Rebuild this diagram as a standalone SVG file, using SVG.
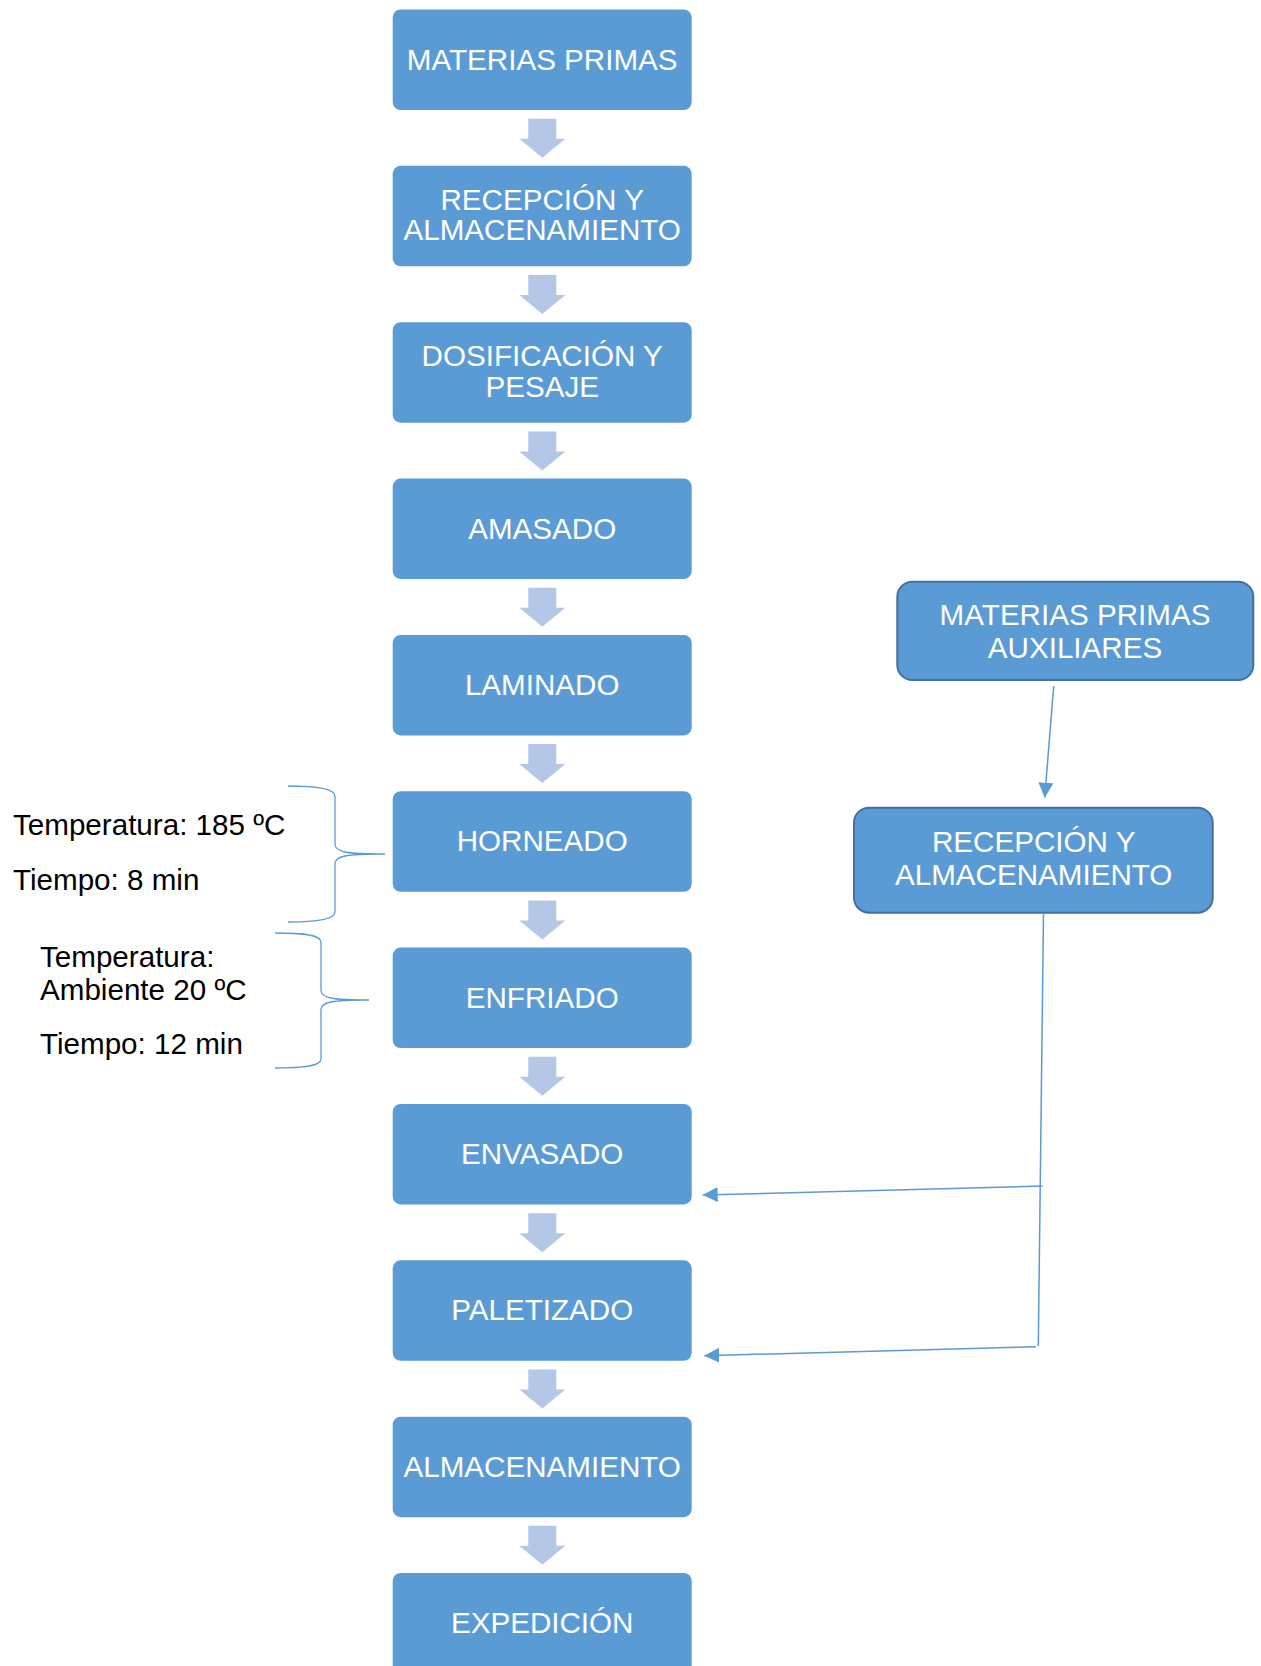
<svg xmlns="http://www.w3.org/2000/svg" xmlns:xlink="http://www.w3.org/1999/xlink" width="1261" height="1666" viewBox="0 0 1261 1666">
<style>
.box{fill:#5B9BD5;}
.rbox{fill:#5B9BD5;stroke:#41719C;stroke-width:2;}
.lbl{font-family:"Liberation Sans",Arial,sans-serif;font-size:29.6px;fill:#FFFFFF;text-anchor:middle;}
.note{font-family:"Liberation Sans",Arial,sans-serif;font-size:29.6px;fill:#000000;}
.blk{fill:#B4C7E7;}
.con{fill:none;stroke:#5B9BD5;stroke-width:1.5;}
.brace{fill:none;stroke:#5B9BD5;stroke-width:1.3;}
</style>
<defs>
<polygon id="down" class="blk" points="528.3,0 556.3,0 556.3,20 565.3,20 542.3,39 519.3,20 528.3,20"/>
<marker id="ah" markerUnits="userSpaceOnUse" markerWidth="16" markerHeight="16" refX="15" refY="7.5" orient="auto">
<path d="M0,0 L15,7.5 L0,15 z" fill="#5B9BD5"/>
</marker>
</defs>
<rect width="1261" height="1666" fill="#FFFFFF"/>

<g id="n0"><rect class="box" x="392.7" y="9.5" width="299" height="100.5" rx="8"/><text class="lbl" x="542.2" y="69.5">MATERIAS PRIMAS</text></g>
<g id="n1"><rect class="box" x="392.7" y="165.85" width="299" height="100.5" rx="8"/><text class="lbl" x="542.2" y="209.5">RECEPCIÓN Y</text><text class="lbl" x="542.2" y="240.3">ALMACENAMIENTO</text></g>
<g id="n2"><rect class="box" x="392.7" y="322.2" width="299" height="100.5" rx="8"/><text class="lbl" x="542.2" y="366">DOSIFICACIÓN Y</text><text class="lbl" x="542.2" y="396.8">PESAJE</text></g>
<g id="n3"><rect class="box" x="392.7" y="478.55" width="299" height="100.5" rx="8"/><text class="lbl" x="542.2" y="538.5">AMASADO</text></g>
<g id="n4"><rect class="box" x="392.7" y="634.9" width="299" height="100.5" rx="8"/><text class="lbl" x="542.2" y="694.8">LAMINADO</text></g>
<g id="n5"><rect class="box" x="392.7" y="791.25" width="299" height="100.5" rx="8"/><text class="lbl" x="542.2" y="851.2">HORNEADO</text></g>
<g id="n6"><rect class="box" x="392.7" y="947.6" width="299" height="100.5" rx="8"/><text class="lbl" x="542.2" y="1007.5">ENFRIADO</text></g>
<g id="n7"><rect class="box" x="392.7" y="1103.95" width="299" height="100.5" rx="8"/><text class="lbl" x="542.2" y="1163.9">ENVASADO</text></g>
<g id="n8"><rect class="box" x="392.7" y="1260.3" width="299" height="100.5" rx="8"/><text class="lbl" x="542.2" y="1320.2">PALETIZADO</text></g>
<g id="n9"><rect class="box" x="392.7" y="1416.65" width="299" height="100.5" rx="8"/><text class="lbl" x="542.2" y="1476.5">ALMACENAMIENTO</text></g>
<g id="n10"><rect class="box" x="392.7" y="1573" width="299" height="100.5" rx="8"/><text class="lbl" x="542.2" y="1632.9">EXPEDICIÓN</text></g>

<g id="n11"><rect class="rbox" x="897.3" y="581.7" width="356" height="98.3" rx="15"/><text class="lbl" x="1075" y="625">MATERIAS PRIMAS</text><text class="lbl" x="1075" y="658.3">AUXILIARES</text></g>
<g id="n12"><rect class="rbox" x="854" y="807.7" width="358.7" height="105" rx="15"/><text class="lbl" x="1033.7" y="851.7">RECEPCIÓN Y</text><text class="lbl" x="1033.7" y="885">ALMACENAMIENTO</text></g>

<g id="notes">
<text class="note" x="13" y="835">Temperatura: 185 ºC</text>
<text class="note" x="13" y="890">Tiempo: 8 min</text>
<text class="note" x="40" y="967">Temperatura:</text>
<text class="note" x="40" y="1000">Ambiente 20 ºC</text>
<text class="note" x="40" y="1054">Tiempo: 12 min</text>
<path class="brace" d="M288 786 C318 786 335 789 335 796 L335 844 C335 852 345 854 385 854 C345 854 335 856 335 864 L335 912 C335 919 318 922 288 922"/>
<path class="brace" d="M275 933 C305 933 321 935 321 942 L321 990 C321 998 331 1000 369 1000 C331 1000 321 1002 321 1010 L321 1059 C321 1066 305 1068 275 1068"/>
</g>

<g id="connectors">
<use xlink:href="#down" href="#down" y="118.7"/>
<use xlink:href="#down" href="#down" y="275.05"/>
<use xlink:href="#down" href="#down" y="431.4"/>
<use xlink:href="#down" href="#down" y="587.75"/>
<use xlink:href="#down" href="#down" y="744.1"/>
<use xlink:href="#down" href="#down" y="900.45"/>
<use xlink:href="#down" href="#down" y="1056.8"/>
<use xlink:href="#down" href="#down" y="1213.15"/>
<use xlink:href="#down" href="#down" y="1369.5"/>
<use xlink:href="#down" href="#down" y="1525.85"/>
<line class="con" x1="1053.7" y1="686" x2="1044.7" y2="797.7" marker-end="url(#ah)"/>
<line class="con" x1="1043.5" y1="913" x2="1038.3" y2="1346"/>
<line class="con" x1="1042.5" y1="1186" x2="702.7" y2="1195" marker-end="url(#ah)"/>
<line class="con" x1="1036" y1="1346.7" x2="704.3" y2="1355.7" marker-end="url(#ah)"/>
</g>
</svg>
